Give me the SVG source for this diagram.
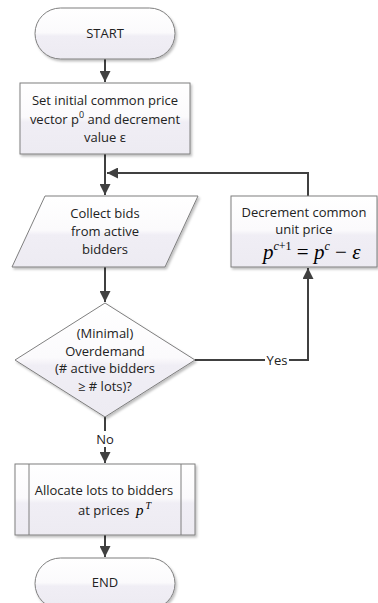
<svg xmlns="http://www.w3.org/2000/svg" width="378" height="603" viewBox="0 0 378 603">
<style>
.shape{fill:url(#g);stroke:#7f7f7f;stroke-width:1;filter:url(#sh)}
.t{font-family:"Open Sans","Liberation Sans",Arial,sans-serif;font-size:13px;fill:#222222;text-anchor:middle}
.m{font-family:"Liberation Serif","Times New Roman",serif;font-style:italic;fill:#000}
.c{fill:none;stroke:#404040;stroke-width:2}
.lbl{font-family:"Open Sans","Liberation Sans",Arial,sans-serif;font-size:13px;fill:#222222;text-anchor:middle}
</style>
<defs>
<linearGradient id="g" x1="0" y1="0" x2="0" y2="1">
<stop offset="0" stop-color="#ffffff"/>
<stop offset="0.48" stop-color="#fbfafc"/>
<stop offset="0.55" stop-color="#f0eef5"/>
<stop offset="1" stop-color="#edebf2"/>
</linearGradient>
<filter id="sh" x="-10%" y="-10%" width="120%" height="130%">
<feDropShadow dx="1.5" dy="2" stdDeviation="1.2" flood-color="#000" flood-opacity="0.25"/>
</filter>
<marker id="ah" viewBox="0 0 10 10" refX="10" refY="5" markerWidth="5.5" markerHeight="5.5" orient="auto" markerUnits="strokeWidth">
<path d="M0,0 L10,5 L0,10 z" fill="#404040"/>
</marker>
</defs>

<g id="connectors">
<path class="c" d="M105,59 V82" marker-end="url(#ah)"/>
<path class="c" d="M105,154 V195" marker-end="url(#ah)"/>
<path class="c" d="M308,196 V173 H107" marker-end="url(#ah)"/>
<path class="c" d="M105,267 V302" marker-end="url(#ah)"/>
<path class="c" d="M195,360 H308 V268" marker-end="url(#ah)"/>
<path class="c" d="M105,417 V463" marker-end="url(#ah)"/>
<path class="c" d="M105,535 V557" marker-end="url(#ah)"/>
<rect x="265" y="352" width="24" height="16" fill="#ffffff"/>
<text class="lbl" x="277" y="364.5">Yes</text>
<rect x="95" y="431" width="20" height="16" fill="#ffffff"/>
<text class="lbl" x="105" y="444">No</text>
</g>

<g id="start">
<rect class="shape" x="35" y="8" width="140" height="51" rx="25.5" ry="25.5"/>
<text class="t" x="105" y="38">START</text>
</g>

<g id="init">
<rect class="shape" x="20" y="83" width="170" height="71"/>
<text class="t" x="105" y="105">Set initial common price</text>
<text class="t" x="105" y="124">vector p<tspan font-size="9" dy="-6">0</tspan><tspan dy="6"> and decrement</tspan></text>
<text class="t" x="105" y="142">value ε</text>
</g>

<g id="collect">
<polygon class="shape" points="45,196 198,196 165,267 12,267"/>
<text class="t" x="105" y="218">Collect bids</text>
<text class="t" x="105" y="236">from active</text>
<text class="t" x="105" y="254">bidders</text>
</g>

<g id="decision">
<polygon class="shape" points="105,303 195,360 105,417 15,360"/>
<text class="t" x="105" y="338">(Minimal)</text>
<text class="t" x="105" y="356">Overdemand</text>
<text class="t" x="105" y="373">(# active bidders</text>
<text class="t" x="105" y="391">≥ # lots)?</text>
</g>

<g id="decrement">
<rect class="shape" x="231" y="196" width="146" height="71"/>
<text class="t" x="304" y="217">Decrement common</text>
<text class="t" x="304" y="234">unit price</text>
<text class="m" x="263" y="259" font-size="21">p<tspan font-size="12" dy="-9">c</tspan><tspan font-size="12" font-style="normal">+1</tspan><tspan dy="9" font-style="normal"> = </tspan>p<tspan font-size="12" dy="-9">c</tspan><tspan dy="9" font-style="normal"> − </tspan>ε</text>
</g>

<g id="allocate">
<rect class="shape" x="15" y="464" width="180" height="71"/>
<line x1="29" y1="464" x2="29" y2="535" stroke="#7f7f7f" stroke-width="1"/>
<line x1="181" y1="464" x2="181" y2="535" stroke="#7f7f7f" stroke-width="1"/>
<text class="t" x="104" y="495">Allocate lots to bidders</text>
<text class="t" x="78" y="515" style="text-anchor:start">at prices <tspan class="m" font-size="15" fill="#1a237e" dx="3">p</tspan><tspan class="m" font-size="10" fill="#1a237e" dy="-6" dx="2">T</tspan></text>
</g>

<g id="end">
<rect class="shape" x="35" y="558" width="140" height="51" rx="25.5" ry="25.5"/>
<text class="t" x="105" y="587">END</text>
</g>
</svg>
